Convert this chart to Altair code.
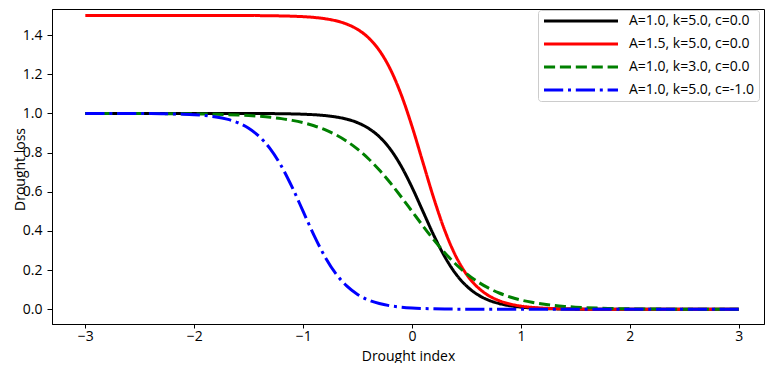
import altair as alt
import pandas as pd

x_vals = [round(-3 + 0.1 * i, 1) for i in range(61)]

series_labels = [
    "A=1.0, k=5.0, c=0.0",
    "A=1.5, k=5.0, c=0.0",
    "A=1.0, k=3.0, c=0.0",
    "A=1.0, k=5.0, c=-1.0",
]

# values at x = -3.0, -2.9, ..., 3.0
y_black = [1.0] * 14 + [
    0.9998, 0.9997, 0.9994, 0.9991, 0.9985, 0.9975, 0.9959, 0.9933, 0.9890, 0.9820,
    0.9707, 0.9526, 0.9241, 0.8808, 0.8176, 0.7311, 0.6225, 0.5, 0.3775, 0.2689,
    0.1824, 0.1192, 0.0759, 0.0474, 0.0293, 0.0180, 0.0110, 0.0067, 0.0041, 0.0025,
    0.0015, 0.0009, 0.0006, 0.0003, 0.0002,
] + [0.0] * 12

y_red = [1.5] * 13 + [
    1.4998, 1.4997, 1.4995, 1.4992, 1.4986, 1.4977, 1.4963, 1.4939, 1.4900, 1.4835,
    1.4730, 1.4560, 1.4289, 1.3861, 1.3212, 1.2264, 1.0966, 0.9337, 0.75, 0.5663,
    0.4034, 0.2736, 0.1788, 0.1139, 0.0711, 0.0440, 0.0270, 0.0165, 0.0100, 0.0061,
    0.0037, 0.0023, 0.0014, 0.0008, 0.0005, 0.0003, 0.0002,
] + [0.0] * 11

y_green = [
    0.9999, 0.9998, 0.9998, 0.9997, 0.9996, 0.9994, 0.9993, 0.9990, 0.9986, 0.9982,
    0.9975, 0.9967, 0.9955, 0.9939, 0.9918, 0.9890, 0.9852, 0.9802, 0.9734, 0.9644,
    0.9526, 0.9370, 0.9168, 0.8909, 0.8581, 0.8176, 0.7685, 0.7109, 0.6457, 0.5744,
    0.5,
    0.4256, 0.3543, 0.2891, 0.2315, 0.1824, 0.1419, 0.1091, 0.0832, 0.0630, 0.0474,
    0.0356, 0.0266, 0.0198, 0.0148, 0.0110, 0.0082, 0.0061, 0.0045, 0.0033, 0.0025,
    0.0018, 0.0014, 0.0010, 0.0007, 0.0006, 0.0004, 0.0003, 0.0002, 0.0002, 0.0001,
]

y_blue = [1.0] * 4 + [
    0.9997, 0.9994, 0.9991, 0.9985, 0.9975, 0.9959, 0.9933, 0.9890, 0.9820, 0.9707,
    0.9526, 0.9241, 0.8808, 0.8176, 0.7311, 0.6225, 0.5, 0.3775, 0.2689, 0.1824,
    0.1192, 0.0759, 0.0474, 0.0293, 0.0180, 0.0110, 0.0067, 0.0041, 0.0025, 0.0015,
    0.0009, 0.0006, 0.0003,
] + [0.0] * 24

colors = ["#000000", "#ff0000", "#008000", "#0000ff"]
dashes = [[1, 0], [1, 0], [11.1, 4.8], [19.2, 4.8, 3, 4.8]]

rows = []
for order, (lab, ys) in enumerate(zip(series_labels, [y_black, y_red, y_green, y_blue])):
    for xv, yv in zip(x_vals, ys):
        rows.append({"x": xv, "y": yv, "series": lab, "order": order})
df = pd.DataFrame(rows)

FONT = "Open Sans"
FS = 14

chart = (
    alt.Chart(df)
    .mark_line(strokeWidth=3, strokeCap="butt", interpolate="monotone")
    .encode(
        x=alt.X(
            "x:Q",
            scale=alt.Scale(domain=[-3.306, 3.232], nice=False, zero=False),
            axis=alt.Axis(
                values=[-3, -2, -1, 0, 1, 2, 3], format="d", title="Drought index",
                tickSize=4, labelPadding=1, titleY=36, titleBaseline="alphabetic",
            ),
        ),
        y=alt.Y(
            "y:Q",
            scale=alt.Scale(domain=[-0.075, 1.533], nice=False, zero=False),
            axis=alt.Axis(
                values=[0, 0.2, 0.4, 0.6, 0.8, 1.0, 1.2, 1.4], format=".1f", title="Drought loss",
                labelPadding=5, titleX=-28, titleY=160, titleBaseline="alphabetic",
            ),
        ),
        color=alt.Color(
            "series:N",
            scale=alt.Scale(domain=series_labels, range=colors),
            legend=alt.Legend(
                title=None,
                orient="none",
                legendX=486,
                legendY=1,
                symbolType="M-1,0H13.8",
                symbolSize=100,
                symbolStrokeWidth=3,
                labelFontSize=FS,
                labelFont=FONT,
                labelColor="#000000",
                labelOffset=73,
                labelExpr="datum.label + '  '",
                padding=4,
                rowPadding=9,
                fillColor="white",
                strokeColor="#cccccc",
                cornerRadius=3,
            ),
        ),
        strokeDash=alt.StrokeDash(
            "series:N",
            scale=alt.Scale(domain=series_labels, range=dashes),
            legend=None,
        ),
        order=alt.Order("order:Q"),
        detail="series:N",
    )
    .properties(
        width=712,
        height=315,
        autosize=alt.AutoSizeParams(type="none"),
        padding={"left": 44, "top": 1, "right": 1, "bottom": 39},
    )
    .configure_view(stroke="#000000", strokeWidth=1)
    .configure_axis(
        grid=False,
        domainColor="#000000",
        tickColor="#000000",
        tickSize=5,
        labelFont=FONT,
        labelFontSize=FS,
        labelColor="#000000",
        titleFont=FONT,
        titleFontSize=FS,
        titleFontWeight="normal",
        titleColor="#000000",
    )
)

chart.save("out.html", embed_options={"renderer": "svg", "actions": False})
